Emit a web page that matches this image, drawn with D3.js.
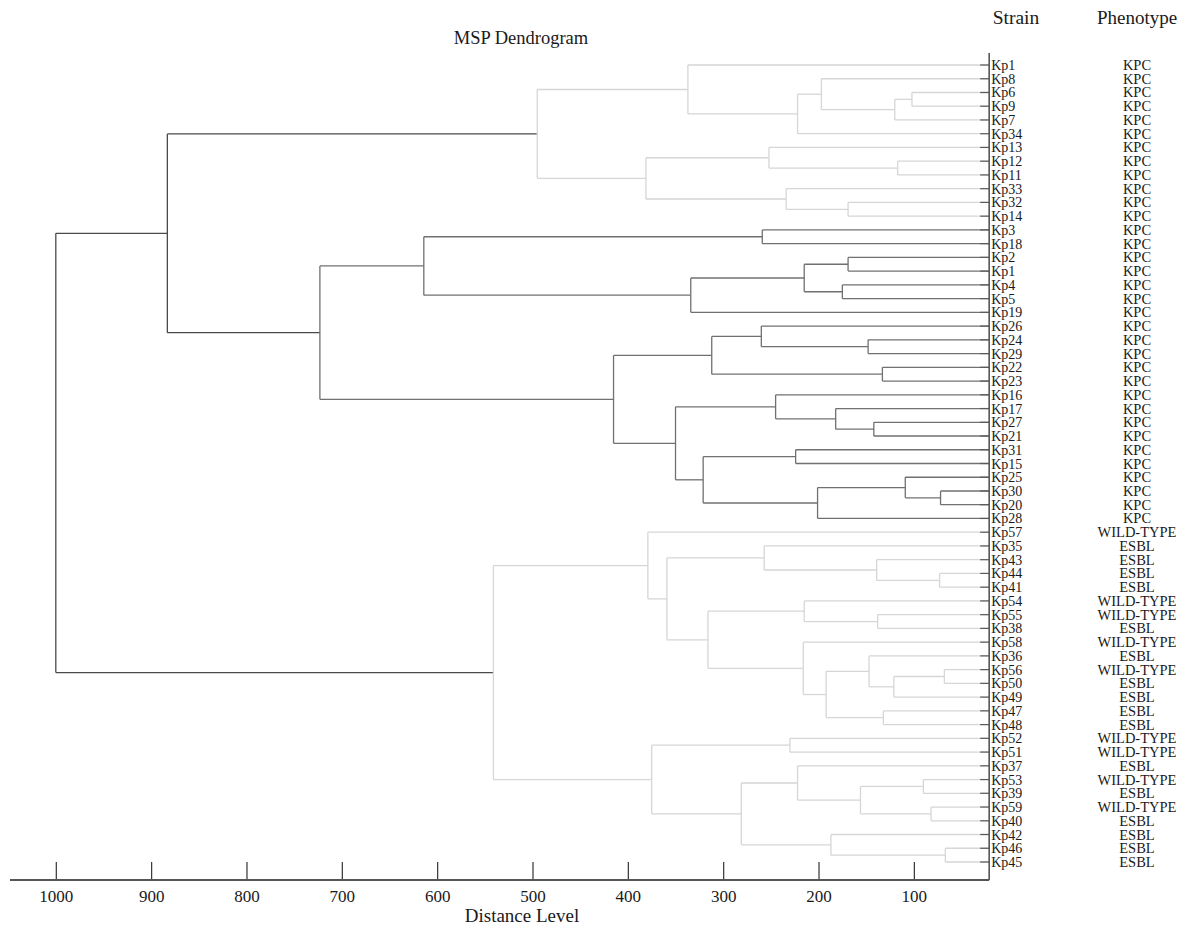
<!DOCTYPE html>
<html>
<head>
<meta charset="utf-8">
<script src="https://cdn.jsdelivr.net/npm/d3@7/dist/d3.min.js"></script>
<style>
  html, body { margin: 0; padding: 0; background: #fff; }
  svg { display: block; }
  text { font-family: "Liberation Serif", "Times New Roman", serif; fill: #1a1a1a; }
</style>
</head>
<body>
<svg id="chart" width="1195" height="927"></svg>
<script>
// ---------------- DATA ----------------
const strains = ["Kp1","Kp8","Kp6","Kp9","Kp7","Kp34","Kp13","Kp12","Kp11","Kp33","Kp32","Kp14",
  "Kp3","Kp18","Kp2","Kp1","Kp4","Kp5","Kp19","Kp26","Kp24","Kp29","Kp22","Kp23",
  "Kp16","Kp17","Kp27","Kp21","Kp31","Kp15","Kp25","Kp30","Kp20","Kp28",
  "Kp57","Kp35","Kp43","Kp44","Kp41","Kp54","Kp55","Kp38","Kp58","Kp36","Kp56","Kp50",
  "Kp49","Kp47","Kp48","Kp52","Kp51","Kp37","Kp53","Kp39","Kp59","Kp40","Kp42","Kp46","Kp45"];

const phenotypes = ["KPC","KPC","KPC","KPC","KPC","KPC","KPC","KPC","KPC","KPC","KPC","KPC",
  "KPC","KPC","KPC","KPC","KPC","KPC","KPC","KPC","KPC","KPC","KPC","KPC",
  "KPC","KPC","KPC","KPC","KPC","KPC","KPC","KPC","KPC","KPC",
  "WILD-TYPE","ESBL","ESBL","ESBL","ESBL","WILD-TYPE","WILD-TYPE","ESBL","WILD-TYPE","ESBL","WILD-TYPE","ESBL",
  "ESBL","ESBL","ESBL","WILD-TYPE","WILD-TYPE","ESBL","WILD-TYPE","ESBL","WILD-TYPE","ESBL","ESBL","ESBL","ESBL"];

// linkage: [id, upper child, lower child, distance level]; numbers = leaf row index
const linkage = [
  ["E", 2, 3, 102], ["D", "E", 4, 120], ["C", 1, "D", 197], ["B", "C", 5, 222], ["A", 0, "B", 337],
  ["H", 7, 8, 117], ["G", 6, "H", 252], ["J", 10, 11, 169], ["I", 9, "J", 234], ["F", "G", "I", 381],
  ["P", "A", "F", 495],
  ["L", 12, 13, 259], ["O", 14, 15, 169], ["Q", 16, 17, 175], ["N", "O", "Q", 215], ["M", "N", 18, 334],
  ["K", "L", "M", 614],
  ["U", 20, 21, 148], ["T", 19, "U", 260], ["V", 22, 23, 133], ["S", "T", "V", 312],
  ["EE", 26, 27, 142], ["Y", 25, "EE", 182], ["X", 24, "Y", 245],
  ["AA", 28, 29, 224], ["DD", 31, 32, 72], ["CC", 30, "DD", 109], ["BB", "CC", 33, 201], ["Z", "AA", "BB", 321],
  ["W", "X", "Z", 350], ["R", "S", "W", 415], ["DR", "K", "R", 723],
  ["TR", "P", "DR", 883],
  ["G6", 37, 38, 73], ["G5", 36, "G6", 139], ["G3", 35, "G5", 257],
  ["G8", 40, 41, 138], ["G7", 39, "G8", 215],
  ["G14", 44, 45, 68], ["G13", "G14", 46, 121], ["G11", 43, "G13", 147], ["G12", 47, 48, 132],
  ["G10", "G11", "G12", 192], ["G9", 42, "G10", 216], ["G4", "G7", "G9", 316],
  ["G2", "G3", "G4", 359], ["G1", 34, "G2", 379],
  ["H2", 49, 50, 230], ["H6", 52, 53, 90], ["H7", 54, 55, 82], ["H5", "H6", "H7", 156],
  ["H4", 51, "H5", 222], ["H9", 57, 58, 67], ["H8", 56, "H9", 187], ["H3", "H4", "H8", 281],
  ["H1", "H2", "H3", 375], ["BR", "G1", "H1", 541],
  ["ROOT", "TR", "BR", 1000]
];

const distanceTicks = [1000, 900, 800, 700, 600, 500, 400, 300, 200, 100];
const frameDistance = 21;           // where the right frame cuts the distance axis
const lightClusters = ["P", "BR"];
const midClusters = ["DR"];

// ---------------- LAYOUT ----------------
const svg = d3.select("#chart");
const x = d3.scaleLinear().domain([1000, 0]).range([55.8, 1009.2]);
const y = d3.scaleLinear().domain([0, strains.length - 1]).range([65, 862]);
const frameX = x(frameDistance);
const axisY = 880;

const colors = { root: "#4a4a4a", mid: "#707070", light: "#d6d6d6", tick: "#5a5a5a" };

const byId = new Map(linkage.map(d => [d[0], d]));
function build(ref) {
  if (typeof ref === "number") return { leaf: ref };
  const m = byId.get(ref);
  return { id: m[0], h: m[3], children: [build(m[1]), build(m[2])] };
}
const root = d3.hierarchy(build("ROOT"));

root.eachAfter(n => {
  if (n.children) {
    n.py = (n.children[0].py + n.children[1].py) / 2;
    n.px = x(n.data.h);
  } else {
    n.py = y(n.data.leaf);
    n.px = frameX;
  }
});
root.eachBefore(n => {
  if (!n.children) return;
  if (lightClusters.includes(n.data.id)) n.color = colors.light;
  else if (midClusters.includes(n.data.id)) n.color = colors.mid;
  else n.color = n.parent ? n.parent.color : colors.root;
});

const g = svg.append("g");
const internal = root.descendants().filter(n => n.children);

// horizontal branches (parent colour)
internal.forEach(n => {
  n.children.forEach(c => {
    g.append("line")
      .attr("x1", n.px).attr("x2", c.px)
      .attr("y1", c.py).attr("y2", c.py)
      .attr("stroke", n.color).attr("stroke-width", 1.3);
  });
});
// vertical connectors
g.selectAll("line.v").data(internal).enter().append("line")
  .attr("class", "v")
  .attr("x1", d => d.px).attr("x2", d => d.px)
  .attr("y1", d => d.children[0].py).attr("y2", d => d.children[1].py)
  .attr("stroke", d => d.color).attr("stroke-width", 1.3);

// leaf ticks at the frame
g.selectAll("line.lt").data(root.leaves()).enter().append("line")
  .attr("class", "lt")
  .attr("x1", frameX - 9).attr("x2", frameX)
  .attr("y1", d => d.py).attr("y2", d => d.py)
  .attr("stroke", colors.tick).attr("stroke-width", 1.2);

// right frame line
svg.append("line")
  .attr("x1", frameX).attr("x2", frameX)
  .attr("y1", 53).attr("y2", axisY)
  .attr("stroke", "#555").attr("stroke-width", 1.6);

// axis
const axis = d3.axisBottom(x).tickValues(distanceTicks).tickFormat(d3.format("d"))
  .tickSizeInner(-18).tickSizeOuter(0).tickPadding(10);
const ag = svg.append("g").attr("transform", `translate(0,${axisY})`).call(axis);
ag.select(".domain").remove();
ag.selectAll(".tick line").attr("stroke", "#333").attr("stroke-width", 1.2);
ag.selectAll(".tick text").attr("font-size", 17).attr("fill", "#1a1a1a")
  .attr("font-family", '"Liberation Serif", "Times New Roman", serif');
svg.append("line")
  .attr("x1", 10).attr("x2", frameX)
  .attr("y1", axisY).attr("y2", axisY)
  .attr("stroke", "#555").attr("stroke-width", 1.8);

// strain labels
svg.selectAll("text.strain").data(strains).enter().append("text")
  .attr("class", "strain")
  .attr("x", frameX + 2)
  .attr("y", (d, i) => y(i) + 5)
  .attr("font-size", 14)
  .text(d => d);

// phenotype labels
svg.selectAll("text.pheno").data(phenotypes).enter().append("text")
  .attr("class", "pheno")
  .attr("x", 1137)
  .attr("y", (d, i) => y(i) + 5)
  .attr("text-anchor", "middle")
  .attr("font-size", 14.5)
  .text(d => d);

// headings
svg.append("text").attr("x", 521).attr("y", 44).attr("text-anchor", "middle")
  .attr("font-size", 18.5).text("MSP Dendrogram");
svg.append("text").attr("x", 1016).attr("y", 24).attr("text-anchor", "middle")
  .attr("font-size", 19.5).text("Strain");
svg.append("text").attr("x", 1137).attr("y", 24).attr("text-anchor", "middle")
  .attr("font-size", 19).text("Phenotype");
svg.append("text").attr("x", 522).attr("y", 922).attr("text-anchor", "middle")
  .attr("font-size", 19).text("Distance Level");
</script>
</body>
</html>
